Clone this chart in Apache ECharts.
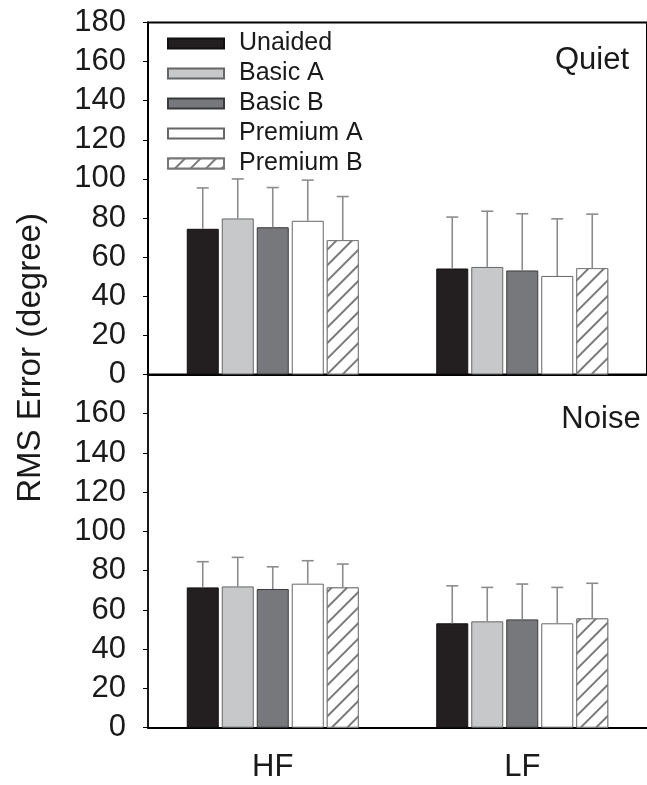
<!DOCTYPE html>
<html><head><meta charset="utf-8">
<script src="https://cdn.jsdelivr.net/npm/echarts@6/dist/echarts.min.js"></script>
<style>html,body{margin:0;padding:0;background:#fff}#c{width:647px;height:785px}</style>
</head><body><div id="c"></div>
<script>
const categories = ['HF', 'LF'];
const seriesNames = ['Unaided', 'Basic A', 'Basic B', 'Premium A', 'Premium B'];
// Quiet panel: means and error (upper SD) per series
const quietMeanHF = [74.5, 79.8, 75.3, 78.6, 68.7];
const quietSdHF   = [20.9, 20.2, 20.3, 20.8, 22.3];
const quietMeanLF = [54.2, 55.0, 53.2, 50.4, 54.4];
const quietSdLF   = [26.3, 28.5, 29.0, 29.2, 27.6];
// Noise panel
const noiseMeanHF = [71.5, 72.0, 70.7, 73.4, 71.5];
const noiseSdHF   = [13.1, 14.8, 11.3, 11.7, 11.9];
const noiseMeanLF = [53.2, 54.2, 55.2, 53.2, 55.7];
const noiseSdLF   = [19.1, 17.3, 18.0, 18.3, 17.9];
const panelLabels = ['Quiet', 'Noise'];
const yAxisTitle = 'RMS Error (degree)';

const FONT = '"Liberation Sans", Arial, sans-serif';
const fills = ['#231f20', '#c7c8ca', '#77787b', '#ffffff', '#ffffff'];
const borders = ['#111111', '#666666', '#3a3a3a', '#666666', '#777777'];
const BAR_W = 32, PITCH = 35;

const panels = [
  { meanHF: quietMeanHF, sdHF: quietSdHF, meanLF: quietMeanLF, sdLF: quietSdLF },
  { meanHF: noiseMeanHF, sdHF: noiseSdHF, meanLF: noiseMeanLF, sdLF: noiseSdLF }
];

const series = [];
panels.forEach((p, pi) => {
  seriesNames.forEach((name, i) => {
    const itemStyle = { color: fills[i], borderColor: borders[i], borderWidth: 1 };
    if (i === 4) {
      itemStyle.decal = {
        symbol: 'rect', symbolSize: 1, color: '#7a7a7a', backgroundColor: '#ffffff',
        dashArrayX: [1, 0], dashArrayY: [1.2, 9], rotation: -Math.PI / 4
      };
    }
    series.push({
      type: 'bar', name: name, xAxisIndex: pi, yAxisIndex: pi,
      data: [p.meanHF[i], p.meanLF[i]],
      barWidth: BAR_W, barGap: (3 / BAR_W * 100) + '%',
      itemStyle: itemStyle, emphasis: { disabled: true }, z: 2
    });
  });
});
panels.forEach((p, pi) => {
  seriesNames.forEach((name, i) => {
    const off = (i - 2) * PITCH;
    series.push({
      type: 'custom', xAxisIndex: pi, yAxisIndex: pi, z: 3, silent: true,
      data: [[0, p.meanHF[i], p.meanHF[i] + p.sdHF[i]], [1, p.meanLF[i], p.meanLF[i] + p.sdLF[i]]],
      renderItem: function (params, api) {
        const cat = api.value(0), m = api.value(1), u = api.value(2);
        const pm = api.coord([cat, m]), pu = api.coord([cat, u]);
        const x = pm[0] + off;
        const st = { stroke: '#8c8c8c', lineWidth: 1.6 };
        return { type: 'group', children: [
          { type: 'line', shape: { x1: x, y1: pm[1], x2: x, y2: pu[1] }, style: st },
          { type: 'line', shape: { x1: x - 6, y1: pu[1], x2: x + 6, y2: pu[1] }, style: st }
        ]};
      }
    });
  });
});

function yAxisCfg(gi, hideTop) {
  return {
    gridIndex: gi, type: 'value', min: 0, max: 180, interval: 20,
    axisLine: { show: true, lineStyle: { color: '#000', width: 1.8 } },
    axisTick: { show: true, length: 5, lineStyle: { color: '#000', width: 1 } },
    splitLine: { show: false },
    axisLabel: {
      fontSize: 31, fontFamily: FONT, color: '#1a1a1a', margin: 22,
      formatter: v => (hideTop && v === 180) ? '' : String(v)
    }
  };
}
function xAxisCfg(gi, showLabel) {
  return {
    gridIndex: gi, type: 'category', data: categories,
    axisLine: { lineStyle: { color: '#000', width: 2 } },
    axisTick: { alignWithLabel: true, length: 5, lineStyle: { color: '#000', width: 1 } },
    axisLabel: { show: showLabel, fontSize: 31, fontFamily: FONT, color: '#1a1a1a', margin: 24 }
  };
}

const chart = echarts.init(document.getElementById('c'), null, { renderer: 'canvas' });
chart.setOption({
  animation: false,
  backgroundColor: '#ffffff',
  grid: [
    { left: 148, right: -8, top: 22.5, height: 352, show: true, borderColor: '#000', borderWidth: 2, backgroundColor: 'transparent' },
    { left: 148, right: -8, top: 374.5, height: 353.2 }
  ],
  xAxis: [xAxisCfg(0, false), xAxisCfg(1, true)],
  yAxis: [yAxisCfg(0, false), yAxisCfg(1, true)],
  legend: {
    data: seriesNames, orient: 'vertical', left: 167, top: 31, padding: 0,
    itemWidth: 56, itemHeight: 10, itemGap: 5, icon: 'rect', selectedMode: false,
    textStyle: { fontSize: 25, fontFamily: FONT, color: '#1a1a1a', lineHeight: 25, padding: [0, 0, 0, 10] }
  },
  graphic: [
    { type: 'text', x: 592, y: 60, style: { text: panelLabels[0], font: '31px ' + FONT, fill: '#1a1a1a', align: 'center', verticalAlign: 'middle' } },
    { type: 'text', x: 601, y: 419, style: { text: panelLabels[1], font: '31px ' + FONT, fill: '#1a1a1a', align: 'center', verticalAlign: 'middle' } },
    { type: 'text', x: 31, y: 358, rotation: Math.PI / 2, style: { text: yAxisTitle, font: '33px ' + FONT, fill: '#1a1a1a', align: 'center', verticalAlign: 'middle' } }
  ],
  series: series
});
</script></body></html>
